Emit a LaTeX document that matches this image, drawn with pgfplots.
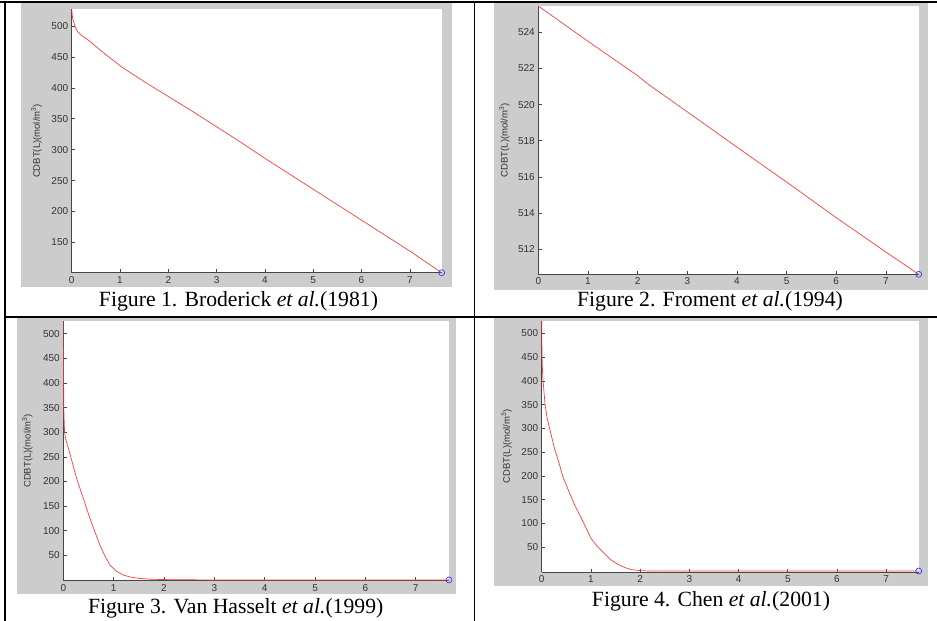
\documentclass[border=0pt]{standalone}
\usepackage{fontspec}
\setmainfont{Liberation Serif}
\newfontfamily\arial{Liberation Sans}
\usepackage{pgfplots}
\pgfplotsset{compat=1.18}
\definecolor{panel}{RGB}{204,204,204}
\definecolor{axl}{RGB}{70,70,70}
\definecolor{mred}{RGB}{255,60,60}
\definecolor{mblue}{RGB}{40,40,255}
\pgfplotsset{
  mat/.style={
    scale only axis,
    axis x line=bottom, axis y line=left,
    axis line style={-, color=axl, line width=0.8pt},
    every tick/.style={axl, line width=0.6pt},
    tick align=inside, major tick length=3.5pt,
    axis background/.style={fill=white},
    xmin=0, xmax=7.66, xtick={0,...,7},
    tick label style={font=\arial\fontsize{10}{10}\selectfont, text=black!80},
    /pgf/number format/assume math mode=true,
    ylabel={CDBT(L)(mol/m\textsuperscript{3})},
    ylabel style={font=\arial\fontsize{9.5}{10}\selectfont, text=black!80, anchor=center, rotate=0},
    clip mode=individual,
  },
  ln/.style={mred, line width=0.7pt, mark=none},
  mk/.style={only marks, mark=o, mark size=3pt, mblue, mark options={line width=0.6pt}},
}
\begin{document}
\begin{tikzpicture}
\path[use as bounding box] (0pt,0pt) rectangle (937pt,-621pt);
% gray panels
\fill[panel] (20.7pt,-3pt) rectangle (451.7pt,-287pt);
\fill[panel] (494pt,-3pt) rectangle (928pt,-290pt);
\fill[panel] (17pt,-318pt) rectangle (456pt,-594pt);
\fill[panel] (494pt,-318pt) rectangle (928pt,-586pt);
% table rules
\fill[black] (0pt,-1pt) rectangle (937pt,-3pt);
\fill[black] (4pt,-1pt) rectangle (5.5pt,-621pt);
\fill[black] (473.7pt,-1pt) rectangle (475.3pt,-621pt);
\fill[black] (4pt,-315.7pt) rectangle (937pt,-318pt);

% Panel 1
\begin{axis}[mat, at={(71.7pt,-272.7pt)}, anchor=south west,
  width=370pt, height=263.4pt, ymin=101, ymax=527,
  ytick={150,200,...,500},
  ylabel style={at={(axis description cs:-0.095,0.5)}}]
\addplot[ln] coordinates {(0,527) (0.02,512) (0.07,499) (0.12,491) (0.2,485) (0.38,475) (0.59,461) (0.8,448) (1.03,434) (1.5,410) (2,386) (2.5,362) (3,337) (3.5,312) (4,286) (4.5,261) (5,236) (5.5,211) (6,186) (6.5,161) (7,136) (7.66,101)};
\addplot[mk] coordinates {(7.66,101)};
\end{axis}

% Panel 2
\begin{axis}[mat, at={(538.3pt,-274.3pt)}, anchor=south west,
  width=380.4pt, height=268.3pt, ymin=510.62, ymax=525.45,
  ytick={512,514,...,524},
  ylabel style={at={(axis description cs:-0.089,0.5)}}]
\addplot[ln] coordinates {(0,525.45) (1,523.5) (2,521.6) (2.2,521.15) (3,519.6) (4,517.65) (5,515.72) (6,513.75) (7,511.85) (7.66,510.62)};
\addplot[mk] coordinates {(7.66,510.62)};
\end{axis}

% Panel 3
\begin{axis}[mat, at={(63.3pt,-580.7pt)}, anchor=south west,
  width=385.7pt, height=259.7pt, ymin=-1.5, ymax=525.8,
  ytick={50,100,...,500},
  ylabel style={at={(axis description cs:-0.093,0.5)}}]
\addplot[ln] coordinates {(0,525.8) (0.004,420) (0.012,340) (0.025,300) (0.05,285) (0.1,268) (0.18,238) (0.265,206) (0.4,165) (0.53,125) (0.63,97) (0.73,70) (0.83,48) (0.93,30) (1.05,18) (1.19,10) (1.35,5.5) (1.53,3) (1.75,1.5) (2,0.8) (2.5,0.3) (3,0.1) (7.66,0)};
\addplot[mk] coordinates {(7.66,0)};
\end{axis}

% Panel 4
\begin{axis}[mat, at={(541.7pt,-572pt)}, anchor=south west,
  width=377pt, height=251.3pt, ymin=-2, ymax=526.5,
  ytick={50,100,...,500},
  ylabel style={at={(axis description cs:-0.093,0.5)}}]
\addplot[ln] coordinates {(0,526.5) (0.004,470) (0.01,440) (0.02,410) (0.03,398) (0.05,372) (0.07,349) (0.11,322) (0.16,300) (0.26,258) (0.35,228) (0.43,198.5) (0.55,168) (0.67,139) (0.84,104) (1.0,69) (1.13,52) (1.27,37) (1.4,24) (1.55,14) (1.7,7) (1.82,3) (2.0,1) (2.2,0) (7.66,0)};
\addplot[mk] coordinates {(7.66,0)};
\end{axis}

% captions
\node[anchor=base, inner sep=0pt, font=\fontsize{21.7}{24}\selectfont] at (238.5pt,-306.5pt) {Figure 1. Broderick \textit{et al.}(1981)};
\node[anchor=base, inner sep=0pt, font=\fontsize{21.7}{24}\selectfont] at (710pt,-306.5pt) {Figure 2. Froment \textit{et al.}(1994)};
\node[anchor=base, inner sep=0pt, font=\fontsize{21.7}{24}\selectfont] at (235.7pt,-613pt) {Figure 3. Van Hasselt \textit{et al.}(1999)};
\node[anchor=base, inner sep=0pt, font=\fontsize{21.7}{24}\selectfont] at (711pt,-606.5pt) {Figure 4. Chen \textit{et al.}(2001)};
\end{tikzpicture}
\end{document}
